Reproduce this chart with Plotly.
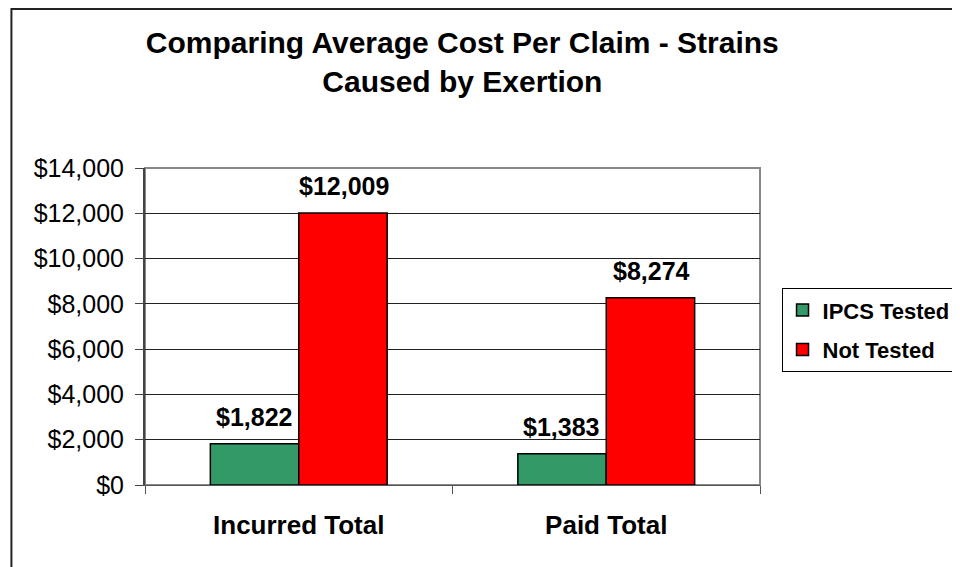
import plotly.graph_objects as go

FONT = "Arial, Liberation Sans, sans-serif"
COLOR_TESTED = '#339966'  # sea green
COLOR_NOT = '#FF0000'

categories = ["Incurred Total", "Paid Total"]
ipcs_tested = [1822, 1383]
not_tested = [12009, 8274]

fig = go.Figure()

fig.add_trace(go.Bar(
    x=categories, y=ipcs_tested, name="IPCS Tested",
    marker=dict(color=COLOR_TESTED, line=dict(color='#000', width=1.5)),
    legendgroup="a"
))
fig.add_trace(go.Bar(
    x=categories, y=not_tested, name="Not Tested",
    marker=dict(color=COLOR_NOT, line=dict(color='#000', width=1.5)),
    legendgroup="b"
))

# value labels above each bar
for series, shift in [(ipcs_tested, -45), (not_tested, 45)]:
    for cat, v in zip(categories, series):
        fig.add_annotation(
            x=cat, y=v, text="${:,}".format(v), showarrow=False,
            xshift=shift, yshift=27,
            font=dict(family=FONT, size=25, color='#000', weight='bold')
        )

# outer chart frame (runs off the right/bottom edge like the original)
fig.add_shape(type="rect", xref="paper", yref="paper",
              x0=-0.2172, x1=1.35, y0=-0.35, y1=1.5016,
              line=dict(color='#222', width=2), layer="below")
# plot area border
fig.add_shape(type="rect", xref="paper", yref="paper",
              x0=0, x1=1, y0=0, y1=1,
              line=dict(color='#888', width=2), layer="below")

fig.update_layout(
    width=960, height=567, autosize=False,
    paper_bgcolor='white', plot_bgcolor='white',
    font=dict(family=FONT, color='#000'),
    title=dict(
        text="Comparing Average Cost Per Claim - Strains<br>Caused by Exertion",
        font=dict(family=FONT, size=30, color='#000', weight='bold'),
        x=0.516, xref="paper", xanchor="center",
        y=1 - 45 / 567, yref="container", yanchor="top"
    ),
    barmode="group", bargap=0.425, bargroupgap=0,
    margin=dict(l=137, r=197, t=160, b=90),
    xaxis=dict(
        showgrid=False, showline=True, linecolor='#555', linewidth=1,
        ticks="outside", tickson="boundaries", ticklen=8, tickcolor='#555',
        tickfont=dict(family=FONT, size=26, color='#000', weight='bold'),
        ticklabelstandoff=17
    ),
    yaxis=dict(
        range=[0, 14000], dtick=2000, tickprefix="$", tickformat=",",
        showgrid=True, gridcolor='#222', gridwidth=1,
        zeroline=True, zerolinecolor='#222', zerolinewidth=1,
        showline=True, linecolor='#444', linewidth=2,
        ticks="outside", ticklen=8, tickcolor='#444',
        tickfont=dict(family=FONT, size=25, color='#000'),
        ticklabelstandoff=6
    ),
    legend=dict(
        x=1.035, xanchor="left", y=0.621, yanchor="top",
        bordercolor='#000', borderwidth=1, bgcolor='white',
        font=dict(family=FONT, size=22, color='#000', weight='bold'),
        traceorder="grouped", tracegroupgap=8, entrywidth=200
    ),
    showlegend=True
)

fig.write_html("out.html")
